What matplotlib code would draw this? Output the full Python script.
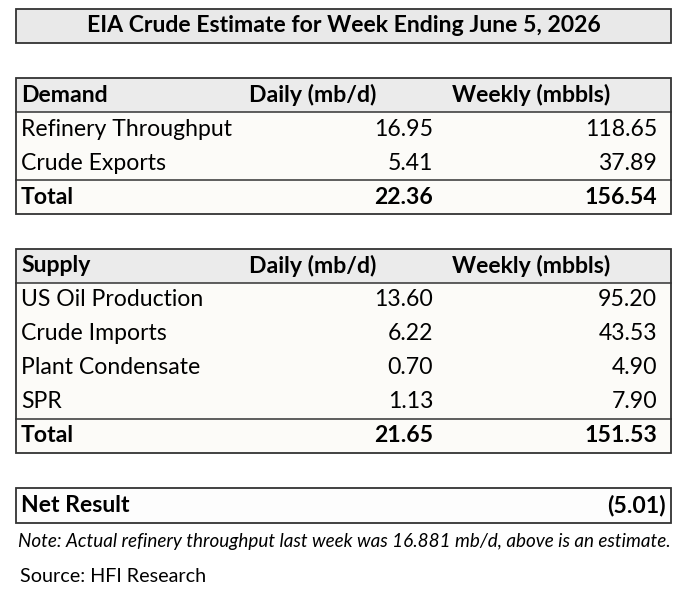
import matplotlib.pyplot as plt
from matplotlib.patches import Rectangle

plt.rcParams['font.family'] = ['Lato', 'DejaVu Sans']

title = "EIA Crude Estimate for Week Ending June 5, 2026"
col_headers = ["Daily (mb/d)", "Weekly (mbbls)"]

demand_items = ["Refinery Throughput", "Crude Exports"]
demand_daily = [16.95, 5.41]
demand_weekly = [118.65, 37.89]
demand_total = [22.36, 156.54]

supply_items = ["US Oil Production", "Crude Imports", "Plant Condensate", "SPR"]
supply_daily = [13.60, 6.22, 0.70, 1.13]
supply_weekly = [95.20, 43.53, 4.90, 7.90]
supply_total = [21.65, 151.53]

net_result = -5.01
note = "Note: Actual refinery throughput last week was 16.881 mb/d, above is an estimate."
source = "Source: HFI Research"

W, H = 680, 593
LEFT, RIGHT = 16, 671
ROW = 34
FS = 16.6
EDGE = '#333333'
HEAD_BG = '#ebebeb'
ROW_BG = '#fcfbf8'


def fmt(v):
    if v < 0:
        return f"({abs(v):.2f})"
    return f"{v:.2f}"


def draw_block(ax, top, name, items, daily, weekly, total):
    n = len(items)
    bottom = top + ROW * (n + 2)
    ax.add_patch(Rectangle((LEFT, top), RIGHT - LEFT, ROW, facecolor=HEAD_BG, edgecolor='none'))
    ax.add_patch(Rectangle((LEFT, top + ROW), RIGHT - LEFT, ROW * (n + 1), facecolor=ROW_BG, edgecolor='none'))
    ax.add_patch(Rectangle((LEFT, top), RIGHT - LEFT, bottom - top, facecolor='none', edgecolor=EDGE, lw=1.3))
    ax.plot([LEFT, RIGHT], [top + ROW, top + ROW], color=EDGE, lw=1.1)
    ax.plot([LEFT, RIGHT], [bottom - ROW, bottom - ROW], color=EDGE, lw=1.1)

    y = top + ROW / 2
    ax.text(21, y, name, fontsize=FS, fontweight='bold', va='center')
    ax.text(249, y, col_headers[0], fontsize=FS, fontweight='bold', va='center')
    ax.text(452, y, col_headers[1], fontsize=FS, fontweight='bold', va='center')
    for i, item in enumerate(items):
        y = top + ROW * (i + 1.5)
        ax.text(21, y, item, fontsize=FS, va='center')
        ax.text(433, y, fmt(daily[i]), fontsize=FS, va='center', ha='right')
        ax.text(657, y, fmt(weekly[i]), fontsize=FS, va='center', ha='right')
    y = bottom - ROW / 2
    ax.text(21, y, "Total", fontsize=FS, fontweight='bold', va='center')
    ax.text(433, y, fmt(total[0]), fontsize=FS, fontweight='bold', va='center', ha='right')
    ax.text(657, y, fmt(total[1]), fontsize=FS, fontweight='bold', va='center', ha='right')


fig = plt.figure(figsize=(W / 100, H / 100), dpi=100)
ax = fig.add_axes([0, 0, 1, 1])
ax.set_xlim(0, W)
ax.set_ylim(H, 0)
ax.axis('off')

# title box
ax.add_patch(Rectangle((LEFT, 9), RIGHT - LEFT, 34, facecolor='#e9e9e9', edgecolor=EDGE, lw=1.3))
ax.text((LEFT + RIGHT) / 2, 26, title, fontsize=FS, fontweight='bold', ha='center', va='center')

draw_block(ax, 78, "Demand", demand_items, demand_daily, demand_weekly, demand_total)
draw_block(ax, 249, "Supply", supply_items, supply_daily, supply_weekly, supply_total)

# net result
ax.add_patch(Rectangle((LEFT, 488), RIGHT - LEFT, 35, facecolor='#fdfdfd', edgecolor=EDGE, lw=1.3))
ax.text(21, 505.5, "Net Result", fontsize=FS, fontweight='bold', va='center')
ax.text(666, 505.5, fmt(net_result), fontsize=FS, fontweight='bold', va='center', ha='right')

ax.text(18, 542, note, fontsize=13.6, style='italic', va='center')
ax.text(20, 576, source, fontsize=14.2, va='center')

fig.savefig('out.png', dpi=100)
